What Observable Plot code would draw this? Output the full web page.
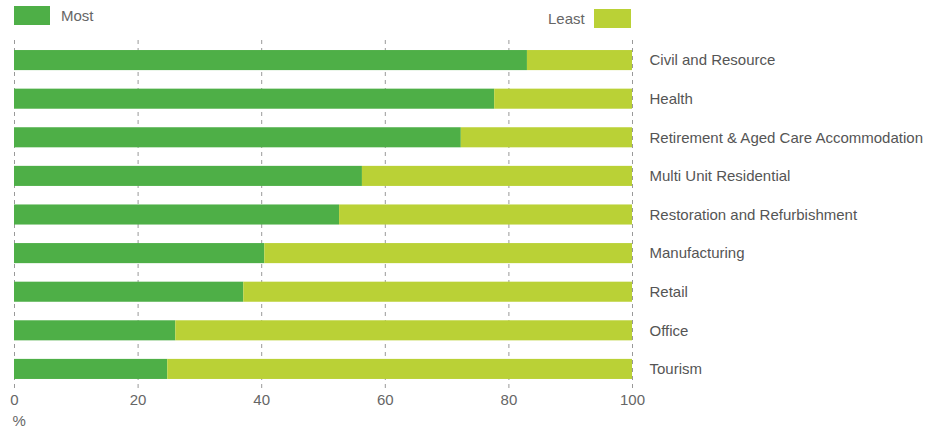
<!DOCTYPE html>
<html>
<head>
<meta charset="utf-8">
<script src="https://cdn.jsdelivr.net/npm/d3@7"></script>
<script src="https://cdn.jsdelivr.net/npm/@observablehq/plot@0.6"></script>
<style>
  body { margin: 0; background: #fff; font-family: "Liberation Sans", Arial, sans-serif; }
  #wrap { position: relative; width: 941px; height: 430px; }
  .sw { position: absolute; }
  .lt { position: absolute; font-size: 15px; color: #666; line-height: 16px; }
</style>
</head>
<body>
<div id="wrap">
  <div class="sw" style="left:14px;top:6px;width:36px;height:19px;background:#4EAF47"></div>
  <div class="lt" style="left:61px;top:8px;">Most</div>
  <div class="lt" style="left:548px;top:11px;">Least</div>
  <div class="sw" style="left:594px;top:9px;width:37px;height:19px;background:#BAD136"></div>
</div>
<script>
const categories = ["Civil and Resource", "Health", "Retirement & Aged Care Accommodation", "Multi Unit Residential", "Restoration and Refurbishment", "Manufacturing", "Retail", "Office", "Tourism"];
const most = [83.0, 77.7, 72.3, 56.3, 52.6, 40.5, 37.1, 26.1, 24.8];
const least = [17.0, 22.3, 27.7, 43.7, 47.4, 59.5, 62.9, 73.9, 75.2];
const seriesNames = ["Most", "Least"];
const seriesColors = ["#4EAF47", "#BAD136"];
const xTicks = [0, 20, 40, 60, 80, 100];

const rows = [];
categories.forEach((c, i) => {
  rows.push({category: c, series: "Most", value: most[i]});
  rows.push({category: c, series: "Least", value: least[i]});
});

const chart = Plot.plot({
  width: 941,
  height: 430,
  marginLeft: 14,
  marginRight: 309,
  marginTop: 40,
  marginBottom: 41,
  style: {fontFamily: "Liberation Sans, Arial, sans-serif", fontSize: "15px", color: "#666", background: "#fff"},
  x: {domain: [0, 100]},
  y: {domain: categories, paddingInner: 0.48, paddingOuter: 0.26, round: false},
  color: {domain: seriesNames, range: seriesColors},
  marks: [
    Plot.ruleX(xTicks, {stroke: "#999", strokeDasharray: "4,4", strokeWidth: 1}),
    Plot.barX(rows, Plot.stackX({y: "category", x: "value", fill: "series", order: null})),
    Plot.axisY({anchor: "right", tickSize: 0, tickPadding: 17, fontSize: 15, fill: "#555", label: null}),
    Plot.axisX({ticks: xTicks, tickSize: 0, tickPadding: 5, fontSize: 15, fill: "#666", label: null}),
    Plot.text(["%"], {frameAnchor: "bottom-left", textAnchor: "start", dx: -2, dy: 36, fontSize: 15, fill: "#666"})
  ]
});
document.getElementById("wrap").appendChild(chart);
</script>
</body>
</html>
